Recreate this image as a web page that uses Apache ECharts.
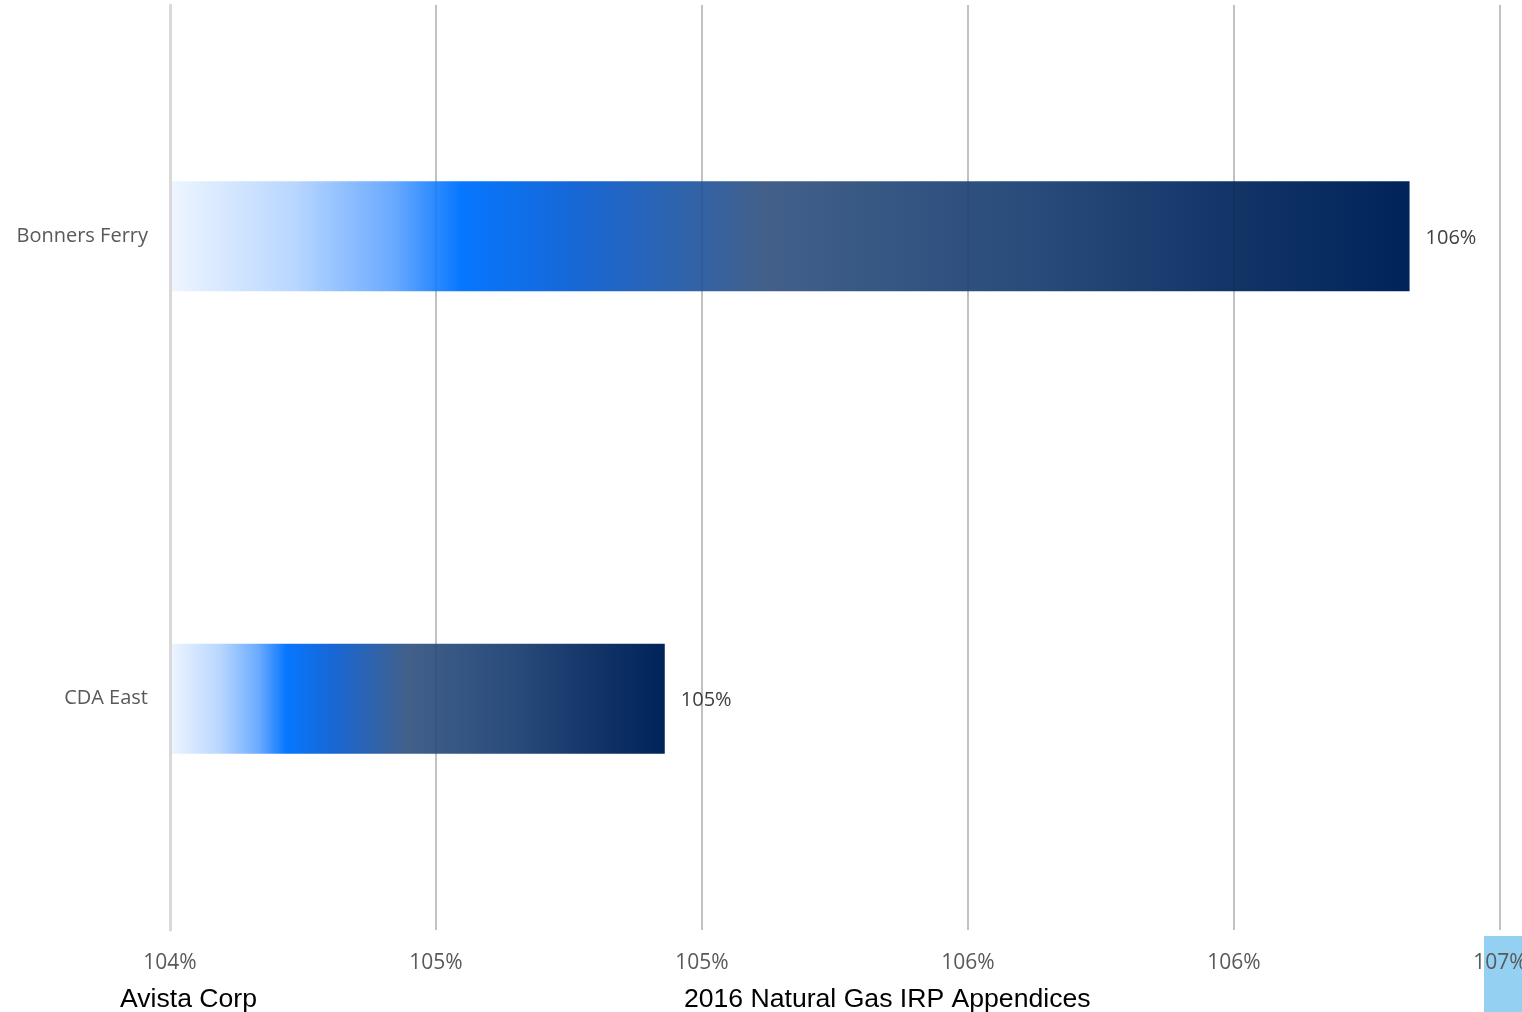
<!DOCTYPE html>
<html>
<head>
<meta charset="utf-8">
<script src="https://cdn.jsdelivr.net/npm/echarts@6/dist/echarts.min.js"></script>
<style>
html,body{margin:0;padding:0;background:#fff;overflow:hidden;}
#chart{width:1522px;height:1012px;}
</style>
</head>
<body>
<div id="chart"></div>
<script>
// Data
const categories = ['CDA East', 'Bonners Ferry'];
const values = [104.93, 106.33];
const barLabels = ['105%', '106%'];
const xTicks = { min: 104, max: 106.5, interval: 0.5 };
const footerLeft = 'Avista Corp';
const footerCenter = '2016 Natural Gas IRP Appendices';

const chart = echarts.init(document.getElementById('chart'));
const grad = new echarts.graphic.LinearGradient(0, 0, 1, 0, [
  { offset: 0, color: '#eef5ff' },
  { offset: 0.1, color: '#b9d7ff' },
  { offset: 0.18, color: '#6aaaff' },
  { offset: 0.235, color: '#0677ff' },
  { offset: 0.33, color: '#1867d4' },
  { offset: 0.48, color: '#42608a' },
  { offset: 0.7, color: '#284b7b' },
  { offset: 0.85, color: '#133568' },
  { offset: 1, color: '#00245a' }
]);

chart.setOption({
  animation: false,
  backgroundColor: '#fff',
  grid: { left: 170, right: 22, top: 5, bottom: 82, containLabel: false, outerBoundsMode: 'none' },
  xAxis: [{
    type: 'value',
    min: xTicks.min, max: xTicks.max, interval: xTicks.interval,
    z: 1,
    axisLine: { show: false },
    axisTick: { show: false },
    splitLine: { show: true, lineStyle: { color: '#cecece', width: 2 } },
    axisLabel: {
      margin: 23,
      color: '#595959',
      fontFamily: 'Open Sans',
      fontSize: 21,
      formatter: v => Math.round(v) + '%'
    }
  }, {
    type: 'value',
    position: 'bottom',
    min: xTicks.min, max: xTicks.max, interval: xTicks.interval,
    z: 3,
    axisLine: { show: false },
    axisTick: { show: false },
    axisLabel: { show: false },
    splitLine: { show: true, lineStyle: { color: 'rgba(0,0,0,0.06)', width: 2 } }
  }],
  yAxis: {
    type: 'category',
    data: categories,
    z: 4,
    axisLine: { show: true, lineStyle: { color: '#d9d9d9', width: 3 } },
    axisTick: { show: false },
    axisLabel: { margin: 22, color: '#595959', fontFamily: 'Open Sans', fontSize: 20 }
  },
  series: [{
    type: 'bar',
    data: values,
    barWidth: 110,
    itemStyle: { color: grad },
    label: {
      show: true,
      position: 'right',
      distance: 16,
      offset: [0, 2],
      color: '#404040',
      fontFamily: 'Open Sans',
      fontSize: 20,
      formatter: p => barLabels[p.dataIndex]
    }
  }],
  graphic: [
    { type: 'rect', left: 1484, top: 936, z: 0, shape: { width: 38, height: 76 }, style: { fill: '#94d0f2' } },
    { type: 'text', left: 120, top: 986, z: 5, style: { text: footerLeft, font: '26.6px "Liberation Sans", Arial', fill: '#000' } },
    { type: 'text', left: 684, top: 986, z: 5, style: { text: footerCenter, font: '26.6px "Liberation Sans", Arial', fill: '#000' } }
  ]
});
</script>
</body>
</html>
